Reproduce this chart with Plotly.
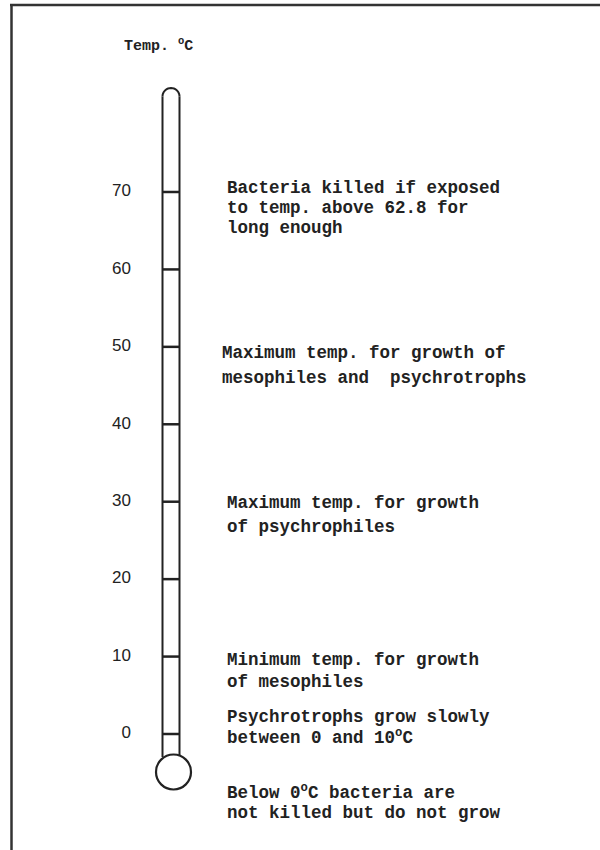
import math
import plotly.graph_objects as go

# ---- data ----
tick_temps = [0, 10, 20, 30, 40, 50, 60, 70]
tick_labels = ["0", "10", "20", "30", "40", "50", "60", "70"]
title_text = "Temp. <sup>o</sup>C"
notes = [
    ["Bacteria killed if exposed", "to temp. above 62.8 for", "long enough"],
    ["Maximum temp. for growth of", "mesophiles and  psychrotrophs"],
    ["Maximum temp. for growth", "of psychrophiles"],
    ["Minimum temp. for growth", "of mesophiles"],
    ["Psychrotrophs grow slowly", "between 0 and 10<sup>o</sup>C"],
    ["Below 0<sup>o</sup>C bacteria are", "not killed but do not grow"],
]

# ---- layout geometry (pixels) ----
W, H = 600, 850
PX0 = 734.0          # pixel y of 0 degC
PX_PER_DEG = 7.743   # pixels per degC


def t_of(ypx):
    return (PX0 - ypx) / PX_PER_DEG


y_top_T = t_of(0)
y_bot_T = t_of(H)

note_pos = [  # (left x, first line center y, line gap)
    (225, 188, 20),
    (220, 353, 25),
    (225, 503, 24),
    (225, 660, 22),
    (225, 717, 20),
    (225, 792, 21),
]

ink = "#222222"
fig = go.Figure()

# tick labels
fig.add_trace(go.Scatter(
    x=[131] * len(tick_temps), y=tick_temps, text=tick_labels,
    mode="text", textposition="middle left",
    textfont=dict(family="Liberation Sans", size=17, color=ink),
    hoverinfo="skip", showlegend=False,
))

shapes = []
# border (top + left only)
shapes.append(dict(type="line", xref="x", yref="paper", x0=10, x1=W, y0=1 - 5 / H, y1=1 - 5 / H,
                   line=dict(color="#333", width=2.5)))
shapes.append(dict(type="line", xref="x", yref="paper", x0=11.5, x1=11.5, y0=0, y1=1 - 4 / H,
                   line=dict(color="#333", width=2.5)))

# thermometer tube
xl, xr = 162.5, 179.5
xc = (xl + xr) / 2
r_top = (xr - xl) / 2
top_px = 88
bulb_cx, bulb_cy, bulb_r = 173.5, 772, 17.5
tube_end_px = 757
shapes.append(dict(type="line", x0=xl, x1=xl, y0=t_of(top_px + r_top), y1=t_of(tube_end_px),
                   line=dict(color=ink, width=2)))
shapes.append(dict(type="line", x0=xr, x1=xr, y0=t_of(top_px + r_top), y1=t_of(tube_end_px),
                   line=dict(color=ink, width=2)))
pts = []
for i in range(0, 19):
    a = math.pi * i / 18
    px = xc - r_top * math.cos(a)
    py = top_px + r_top - r_top * math.sin(a)
    pts.append((px, t_of(py)))
path = "M " + " L ".join(f"{p[0]:.2f},{p[1]:.4f}" for p in pts)
shapes.append(dict(type="path", path=path, line=dict(color=ink, width=2)))
shapes.append(dict(type="circle", x0=bulb_cx - bulb_r, x1=bulb_cx + bulb_r,
                   y0=t_of(bulb_cy + bulb_r), y1=t_of(bulb_cy - bulb_r),
                   line=dict(color=ink, width=2.2), fillcolor="white"))
for t in tick_temps:
    shapes.append(dict(type="line", x0=xl, x1=xr, y0=t, y1=t,
                       line=dict(color=ink, width=2.5)))

annotations = []
annotations.append(dict(x=122, y=t_of(45), xref="x", yref="y", text="<b>" + title_text + "</b>",
                        showarrow=False, xanchor="left", yanchor="middle",
                        font=dict(family="Liberation Mono", size=15, color=ink)))
for lines, (x0, y0, gap) in zip(notes, note_pos):
    for k, line in enumerate(lines):
        annotations.append(dict(x=x0, y=t_of(y0 + k * gap), xref="x", yref="y",
                                text="<b>" + line + "</b>",
                                showarrow=False, xanchor="left", yanchor="middle",
                                font=dict(family="Liberation Mono", size=17.5, color=ink)))

fig.update_layout(
    width=W, height=H, margin=dict(l=0, r=0, t=0, b=0),
    paper_bgcolor="white", plot_bgcolor="white",
    xaxis=dict(range=[0, W], visible=False, fixedrange=True),
    yaxis=dict(range=[y_bot_T, y_top_T], visible=False, fixedrange=True),
    shapes=shapes, annotations=annotations, showlegend=False,
)
fig.write_html(
    "out.html",
    config={"displayModeBar": False},
    post_script="document.body.style.margin='0';document.body.style.padding='0';"
                "document.body.style.overflow='hidden';",
)
